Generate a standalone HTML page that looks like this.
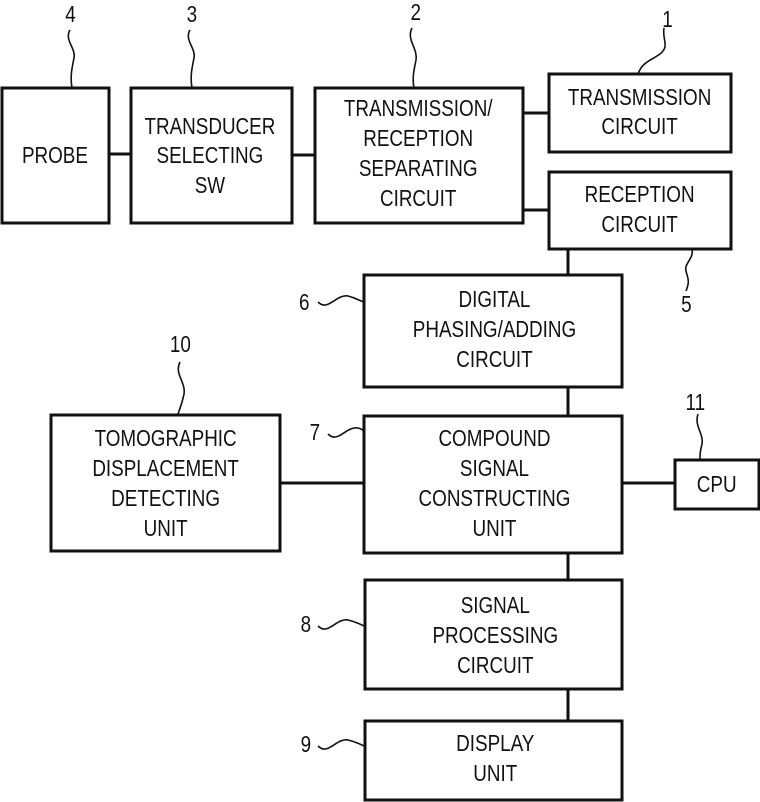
<!DOCTYPE html>
<html><head><style>body{margin:0;background:#fff}svg{display:block}text{font-family:"Liberation Sans",sans-serif;font-size:23px;fill:#111;text-anchor:middle}</style></head>
<body>
<svg width="760" height="802" viewBox="0 0 760 802">
<g fill="none" stroke="#111" stroke-width="3">
<rect x="2" y="88" width="107" height="135"/>
<rect x="131" y="88" width="161" height="135"/>
<rect x="315" y="88" width="208" height="135"/>
<rect x="549" y="74" width="182" height="78"/>
<rect x="549" y="172" width="182" height="77"/>
<rect x="364" y="275" width="258" height="112"/>
<rect x="51" y="415" width="229" height="136"/>
<rect x="364" y="416" width="258" height="137"/>
<rect x="675" y="460" width="84" height="49"/>
<rect x="365" y="580" width="257" height="109"/>
<rect x="365" y="721" width="257" height="79"/>
<path d="M109 154H131M292 155H315M523 113H549M523 210H549M568 249V275M568 387V416M280 483H364M622 483H675M568 553V580M568 689V721"/>
</g>
<g fill="none" stroke="#111" stroke-width="1.6">
<path d="M70 30c-6 10 6 18 4 28c-2 10 -4 18 -2 30"/>
<path d="M190 30c-6 10 6 18 4 28c-2 10 -4 18 -2 30"/>
<path d="M412 28c-6 12 6 20 4 32c-2 10 -4 18 -2 28"/>
<path d="M664 28c-2 12 6 18 -4 26c-8 6 -18 8 -22 20"/>
<path d="M692 249c2 10 -8 14 -6 22c2 8 4 10 0 20"/>
<path d="M318 302c10 10 18 -8 30 -6c8 2 10 4 16 6"/>
<path d="M180 362c-6 12 6 20 4 32c-2 10 -4 14 -6 20"/>
<path d="M698 414c-4 12 6 20 4 30c-2 8 -2 10 -2 16"/>
<path d="M328 434c10 10 18 -8 30 -6c4 1 6 2 6 6"/>
<path d="M318 626c10 10 18 -8 30 -6c8 2 12 4 16 6"/>
<path d="M318 746c10 10 18 -8 30 -6c8 2 12 4 16 6"/>
</g>
<g transform="scale(0.82,1)">
<text x="67" y="163">PROBE</text>
<text x="256" y="134">TRANSDUCER</text>
<text x="256" y="163">SELECTING</text>
<text x="256" y="193">SW</text>
<text x="510" y="116">TRANSMISSION/</text>
<text x="510" y="146">RECEPTION</text>
<text x="510" y="176">SEPARATING</text>
<text x="510" y="206">CIRCUIT</text>
<text x="780" y="105">TRANSMISSION</text>
<text x="780" y="134">CIRCUIT</text>
<text x="780" y="202">RECEPTION</text>
<text x="780" y="232">CIRCUIT</text>
<text x="603" y="307">DIGITAL</text>
<text x="603" y="337">PHASING/ADDING</text>
<text x="603" y="367">CIRCUIT</text>
<text x="202" y="446">TOMOGRAPHIC</text>
<text x="202" y="476">DISPLACEMENT</text>
<text x="202" y="506">DETECTING</text>
<text x="202" y="536">UNIT</text>
<text x="603" y="446">COMPOUND</text>
<text x="603" y="476">SIGNAL</text>
<text x="603" y="506">CONSTRUCTING</text>
<text x="603" y="536">UNIT</text>
<text x="874" y="492">CPU</text>
<text x="604" y="613">SIGNAL</text>
<text x="604" y="643">PROCESSING</text>
<text x="604" y="673">CIRCUIT</text>
<text x="604" y="751">DISPLAY</text>
<text x="604" y="781">UNIT</text>
<text x="86" y="22">4</text>
<text x="234" y="22">3</text>
<text x="507" y="20">2</text>
<text x="814" y="27">1</text>
<text x="837" y="312">5</text>
<text x="371" y="310">6</text>
<text x="220" y="352">10</text>
<text x="848" y="410">11</text>
<text x="384" y="440">7</text>
<text x="373" y="632">8</text>
<text x="373" y="752">9</text>
</g>
</svg>
</body></html>
